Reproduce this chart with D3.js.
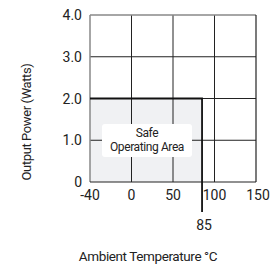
<!DOCTYPE html>
<html>
<head>
<meta charset="utf-8">
<script src="https://cdn.jsdelivr.net/npm/d3@7"></script>
<style>
  body { margin: 0; background: #fff; }
  text { font-family: Roboto, "Liberation Sans", sans-serif; fill: #222; }
</style>
</head>
<body>
<div id="chart"></div>
<script>
// data
const xTicks = [-40, 0, 50, 100, 150];
const yTicks = [0, 1, 2, 3, 4];
const yTickLabels = ["0", "1.0", "2.0", "3.0", "4.0"];
const safeTemp = [-40, 85];
const safePower = [0, 2];
const areaLabel = ["Safe", "Operating Area"];

const W = 276, H = 264;
const svg = d3.select("#chart").append("svg")
    .attr("width", W).attr("height", H);

// x ticks are evenly spaced, not linear -> polylinear scale
const x = d3.scaleLinear()
    .domain(xTicks)
    .range([90, 131.5, 173, 214.5, 256]);
const y = d3.scaleLinear()
    .domain([0, 4])
    .range([182, 15]);

// safe area fill
svg.append("rect")
    .attr("x", x(safeTemp[0]))
    .attr("y", y(safePower[1]))
    .attr("width", x(safeTemp[1]) - x(safeTemp[0]))
    .attr("height", y(safePower[0]) - y(safePower[1]))
    .attr("fill", "#f0f1f3");

// grid
svg.append("g").selectAll("line")
    .data(xTicks.slice(1, -1))
    .join("line")
    .attr("x1", d => x(d)).attr("x2", d => x(d))
    .attr("y1", y(4)).attr("y2", y(0))
    .attr("stroke", "#222").attr("stroke-width", 1);
svg.append("g").selectAll("line")
    .data(yTicks.slice(1, -1))
    .join("line")
    .attr("x1", x(-40)).attr("x2", x(150))
    .attr("y1", d => y(d)).attr("y2", d => y(d))
    .attr("stroke", "#222").attr("stroke-width", 1);

// frame: top/left gray, right/bottom dark
svg.append("line").attr("x1", x(-40)).attr("x2", x(150)).attr("y1", y(4)).attr("y2", y(4))
    .attr("stroke", "#888").attr("stroke-width", 1.5);
svg.append("line").attr("x1", x(-40)).attr("x2", x(-40)).attr("y1", y(4)).attr("y2", y(0))
    .attr("stroke", "#888").attr("stroke-width", 1.5);
svg.append("line").attr("x1", x(150)).attr("x2", x(150)).attr("y1", y(4)).attr("y2", y(0))
    .attr("stroke", "#222").attr("stroke-width", 1.2);
svg.append("line").attr("x1", x(-40)).attr("x2", x(150)).attr("y1", y(0)).attr("y2", y(0))
    .attr("stroke", "#222").attr("stroke-width", 1.2);

// safe area boundary
svg.append("path")
    .attr("d", d3.line()([[x(safeTemp[0]), y(safePower[1])], [x(safeTemp[1]), y(safePower[1])], [x(safeTemp[1]), 212]]))
    .attr("fill", "none").attr("stroke", "#111").attr("stroke-width", 1.8);

// label box
svg.append("rect")
    .attr("x", 102).attr("y", 124).attr("width", 90).attr("height", 33)
    .attr("rx", 3).attr("fill", "#fff");
svg.append("g").selectAll("text")
    .data(areaLabel)
    .join("text")
    .attr("x", 147)
    .attr("y", (d, i) => 137 + i * 14)
    .attr("text-anchor", "middle")
    .attr("font-size", 12)
    .attr("letter-spacing", -0.4)
    .text(d => d);

// tick labels
svg.append("g").selectAll("text")
    .data(yTicks)
    .join("text")
    .attr("x", 82)
    .attr("y", d => y(d) + 5)
    .attr("text-anchor", "end")
    .attr("font-size", 14)
    .text((d, i) => yTickLabels[i]);
svg.append("g").selectAll("text")
    .data(xTicks)
    .join("text")
    .attr("x", d => x(d) + (d === 150 ? 2 : 0))
    .attr("y", 200)
    .attr("text-anchor", "middle")
    .attr("font-size", 14)
    .text(d => d);
svg.append("text")
    .attr("x", x(safeTemp[1]) + 2).attr("y", 230)
    .attr("text-anchor", "middle").attr("font-size", 14)
    .text(safeTemp[1]);

// axis titles
svg.append("text")
    .attr("x", 148).attr("y", 261)
    .attr("text-anchor", "middle").attr("font-size", 13.5)
    .attr("letter-spacing", -0.4)
    .text("Ambient Temperature °C");
svg.append("text")
    .attr("transform", "translate(31,122) rotate(-90)")
    .attr("text-anchor", "middle").attr("font-size", 13)
    .attr("letter-spacing", -0.4)
    .text("Output Power (Watts)");
</script>
</body>
</html>
